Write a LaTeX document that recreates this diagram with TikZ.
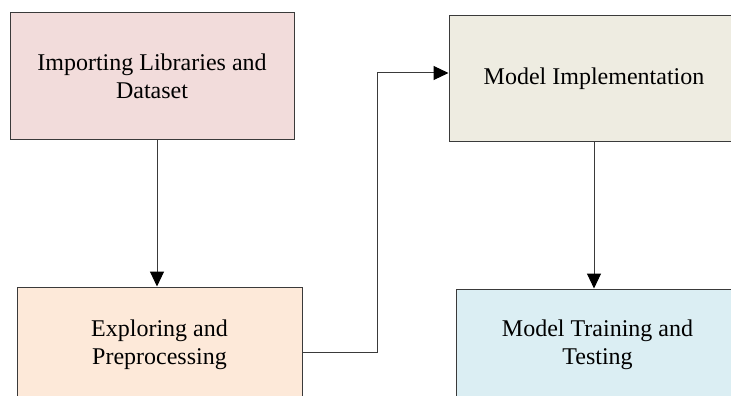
\documentclass[tikz,border=0pt]{standalone}
\usepackage{fontspec}
\setmainfont{Liberation Serif}
\usetikzlibrary{arrows.meta}
\definecolor{pinkbox}{HTML}{F2DCDB}
\definecolor{peachbox}{HTML}{FDE9D9}
\definecolor{greybox}{HTML}{EEECE1}
\definecolor{bluebox}{HTML}{DBEEF3}
\definecolor{edgegrey}{HTML}{3A3A3A}
\tikzset{
  stagebox/.style={draw=edgegrey, line width=1pt, rectangle, inner sep=0pt,
    align=center, font=\fontsize{24}{28}\selectfont},
  flow/.style={draw=edgegrey, line width=1pt, -{Triangle[length=15pt,width=14pt,color=black]}}
}
\begin{document}
\begin{tikzpicture}[x=1pt,y=-1pt]
\clip (0,0) rectangle (731,396);
\useasboundingbox (0,0) rectangle (731,396);
\node[stagebox, fill=pinkbox, minimum width=284pt, minimum height=126pt] (imp) at (152,76) {Importing Libraries and\\Dataset};
\node[stagebox, fill=peachbox, minimum width=285pt, minimum height=116pt] (expl) at (159.5,345) {Exploring and\\Preprocessing};
\node[stagebox, fill=greybox, minimum width=290pt, minimum height=125pt] (impl) at (594,78.5) {Model Implementation};
\node[stagebox, fill=bluebox, minimum width=283pt, minimum height=112pt] (train) at (597.5,345) {Model Training and\\Testing};
\coordinate (bend) at (377,352);

\path[flow] (imp.south -| 157,0) -- (expl.north -| 157,0);
\path[flow] (expl.east |- bend) -- (bend) |- (impl.west |- 0,73);
\path[flow] (impl.south -| 594,0) -- (train.north -| 594,0);
\end{tikzpicture}
\end{document}
